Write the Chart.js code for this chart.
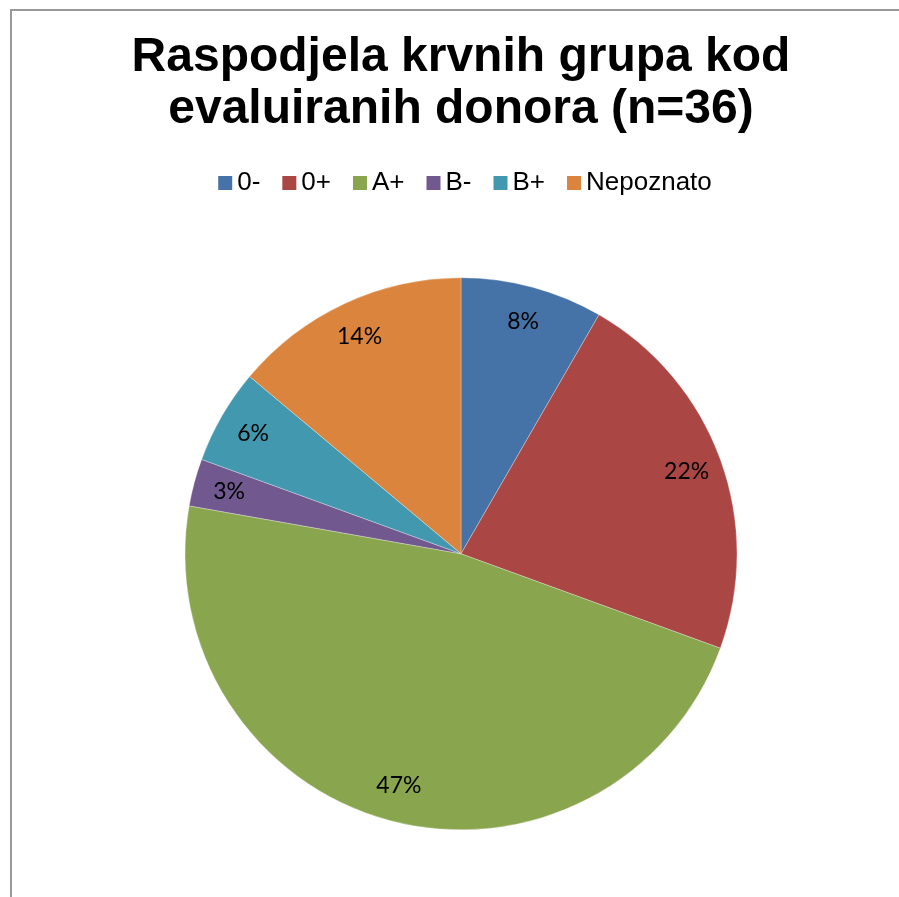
<!DOCTYPE html>
<html>
<head>
<meta charset="utf-8">
<script src="https://cdn.jsdelivr.net/npm/chart.js@4/dist/chart.umd.min.js"></script>
<style>
  html, body { margin: 0; padding: 0; background: #fff; }
  #frame {
    position: absolute; left: 10px; top: 9px; width: 900px; height: 900px;
    border-left: 2px solid #999; border-top: 2px solid #999;
  }
  #wrap { position: absolute; left: 23px; top: 0; width: 876px; height: 897px; }
</style>
</head>
<body>
<div id="frame"></div>
<div id="wrap"><canvas id="pie" width="876" height="897"></canvas></div>
<script>
// blood groups of evaluated donors (n=36)
const groups = ["0-", "0+", "A+", "B-", "B+", "Nepoznato"];
const donors = [3, 8, 17, 1, 2, 5];
const colors = ["#4572A7", "#AA4643", "#89A54E", "#71588F", "#4198AF", "#DB843D"];
const titleLines = ["Raspodjela krvnih grupa kod", "evaluiranih donora (n=36)"];

const total = donors.reduce((a, b) => a + b, 0);
const arial = "'Liberation Sans', Arial, sans-serif";

// percent labels inside the slices, near the rim
const sliceLabels = {
  id: "sliceLabels",
  afterDatasetsDraw(chart) {
    const ctx = chart.ctx;
    const arcs = chart.getDatasetMeta(0).data;
    ctx.save();
    ctx.font = "23px Lato, 'Noto Sans', sans-serif";
    ctx.fillStyle = "#000";
    ctx.textAlign = "center";
    ctx.textBaseline = "middle";
    arcs.forEach((arc, i) => {
      const p = arc.getProps(["x", "y", "startAngle", "endAngle", "outerRadius"], true);
      const mid = (p.startAngle + p.endAngle) / 2;
      const r = p.outerRadius * 0.87;
      const txt = Math.round((donors[i] / total) * 100) + "%";
      ctx.fillText(txt, p.x + Math.cos(mid) * r, p.y + Math.sin(mid) * r);
    });
    ctx.restore();
  },
};

// legend drawn like the office one: small square, short gap, text
const officeLegend = {
  id: "officeLegend",
  afterDraw(chart) {
    const ctx = chart.ctx;
    const box = 14, gapText = 5, gapItem = 22, cy = 183;
    ctx.save();
    ctx.font = "26px " + arial;
    ctx.textBaseline = "middle";
    const widths = groups.map((g) => box + gapText + ctx.measureText(g).width);
    const full = widths.reduce((a, b) => a + b, 0) + gapItem * (groups.length - 1);
    let x = chart.width / 2 + 4 - full / 2;
    groups.forEach((g, i) => {
      ctx.fillStyle = colors[i];
      ctx.fillRect(x, cy - box / 2, box, box);
      ctx.fillStyle = "#000";
      ctx.fillText(g, x + box + gapText, cy);
      x += widths[i] + gapItem;
    });
    ctx.restore();
  },
};

new Chart(document.getElementById("pie"), {
  type: "pie",
  data: {
    labels: groups,
    datasets: [
      {
        data: donors,
        backgroundColor: colors,
        borderColor: "rgba(255,255,255,0.6)",
        borderWidth: 0.5,
      },
    ],
  },
  options: {
    responsive: false,
    animation: false,
    radius: 276,
    layout: { padding: { top: 0, bottom: 6, left: 0, right: 0 } },
    plugins: {
      title: {
        display: true,
        text: titleLines,
        color: "#000",
        font: { family: arial, size: 48, weight: "bold", lineHeight: 1.1 },
        padding: { top: 31, bottom: 80 },
      },
      legend: { display: false },
      tooltip: { enabled: false },
    },
  },
  plugins: [sliceLabels, officeLegend],
});
</script>
</body>
</html>
